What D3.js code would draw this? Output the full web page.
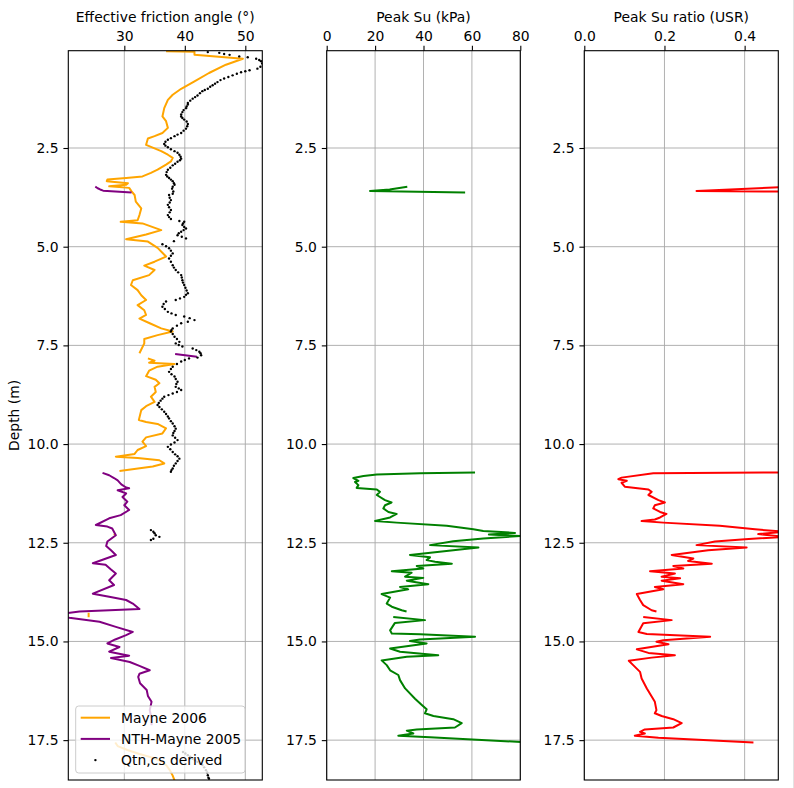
<!DOCTYPE html>
<html><head><meta charset="utf-8">
<script src="https://cdn.jsdelivr.net/npm/d3@7/dist/d3.min.js"></script>
<style>body{margin:0;background:#fff} svg{display:block} text{font-family:"DejaVu Sans",sans-serif;fill:#000}</style>
</head><body><svg id="c" width="794" height="788"></svg>
<script>
// ---- Data (depth in m) ----
const depthTicks = [2.5, 5.0, 7.5, 10.0, 12.5, 15.0, 17.5];
const frictionTicks = [30, 40, 50];
const suTicks = [0, 20, 40, 60, 80];
const usrTicks = [0.0, 0.2, 0.4];

// Mayne 2006 (null = gap)
const mayneDepth = [0.05,0.06,0.14,0.24,0.39,0.60,0.81,1.00,1.15,1.28,1.49,1.70,1.82,1.99,2.12,2.20,2.26,2.42,2.47,2.58,2.67,2.75,2.84,2.92,3.05,3.13,3.22,3.26,3.30,3.34,3.39,3.43,3.47,3.51,3.60,3.69,3.86,4.03,4.20,4.33,4.37,4.41,4.58,4.69,4.81,4.87,5.03,5.25,5.38,5.48,5.59,5.72,5.85,5.97,6.10,6.23,6.35,6.48,6.61,6.73,6.82,6.94,7.07,7.15,7.24,7.34,7.45,7.70,7.76,7.83,7.89,7.94,7.97,8.04,8.14,8.28,8.37,8.46,8.55,8.68,8.80,8.93,9.04,9.14,9.39,9.44,9.49,9.60,9.73,9.83,9.94,10.05,10.15,10.25,10.32,10.35,10.41,10.49,10.57,10.68,11.0,12.27,12.31,13.0,14.27,14.39,16.0,17.56,17.65,17.75,17.85,17.95,18.05,18.15,18.28,18.40,18.52];
const mayneFriction = [36.9,41.6,41.6,49.6,46.8,44.0,41.6,39.4,38.0,37.2,36.6,36.3,36.9,37.2,36.3,35.0,33.9,33.6,34.4,36.1,37.2,38.0,37.7,36.9,35.5,34.4,33.0,30.3,27.2,27.1,30.6,30.3,27.5,30.8,31.2,31.7,31.9,32.8,32.5,32.2,29.4,33.0,36.1,33.6,30.3,33.9,35.5,36.9,35.0,33.3,35.0,34.1,31.4,31.1,32.2,32.8,33.6,32.2,33.3,33.6,32.5,34.2,36.1,38.0,35.5,33.3,33.3,32.5,null,33.9,35.0,34.1,38.3,35.5,34.1,33.6,35.2,35.8,35.0,35.2,34.4,35.0,33.6,32.8,32.4,33.6,35.5,36.9,36.3,33.6,33.0,33.6,32.2,31.7,28.6,32.2,35.8,36.6,34.7,29.2,null,28.3,28.5,null,24.1,24.1,null,28.5,28.9,30.5,32.5,34.8,36.3,37.0,37.6,38.0,38.3];

// NTH-Mayne 2005
const nthDepth = [3.48,3.52,3.55,3.58,3.63,5.0,7.72,7.79,9.0,10.73,10.79,10.86,10.92,11.02,11.10,11.12,11.17,11.25,11.34,11.46,11.55,11.67,11.80,11.88,12.05,12.09,12.14,12.31,12.47,12.58,12.69,12.81,13.02,13.06,13.18,13.28,13.45,13.57,13.79,13.87,13.95,14.04,14.18,14.24,14.32,14.40,14.50,14.63,14.76,14.84,14.95,15.05,15.14,15.26,15.36,15.42,15.52,15.62,15.73,15.82,15.90,16.06,16.23,16.38,16.53,16.74,16.95,17.12];
const nthFriction = [25.2,25.6,26.0,26.5,31.2,null,38.4,42.0,null,26.4,27.5,28.3,28.9,29.5,30.3,30.8,28.9,30.3,29.7,30.5,30.0,30.8,29.4,27.5,25.3,27.2,28.0,28.6,27.2,27.0,27.8,28.6,24.8,26.9,27.8,28.6,27.5,28.3,24.8,27.5,30.3,31.4,32.5,22.6,18.5,20.9,25.9,28.6,31.4,30.3,28.5,27.2,29.2,27.5,30.8,27.8,30.9,32.5,34.2,32.5,32.3,32.6,33.7,33.9,34.5,34.2,34.5,34.5];

// Qtn,cs derived (points)
const qtnDepth = [0.07,0.09,0.12,0.14,0.18,0.20,0.24,0.27,0.30,0.35,0.39,0.44,0.49,0.53,0.555,0.58,0.62,0.66,0.70,0.74,0.78,0.83,0.87,0.91,0.95,1.00,1.03,1.06,1.11,1.17,1.21,1.25,1.30,1.36,1.40,1.45,1.49,1.54,1.59,1.65,1.70,1.74,1.78,1.83,1.89,1.95,2.01,2.06,2.12,2.16,2.20,2.25,2.29,2.34,2.40,2.44,2.48,2.53,2.58,2.62,2.67,2.72,2.77,2.81,2.85,2.90,2.94,3.00,3.05,3.11,3.18,3.22,3.26,3.30,3.34,3.39,3.43,3.48,3.53,3.60,3.66,3.69,3.76,3.82,3.88,3.94,4.00,4.07,4.13,4.20,4.25,4.30,4.35,4.37,4.41,4.45,4.50,4.54,4.58,4.62,4.66,4.71,4.75,4.79,4.86,4.94,4.99,5.04,5.10,5.17,5.23,5.30,5.38,5.47,5.53,5.59,5.65,5.72,5.78,5.85,5.91,5.97,6.04,6.11,6.18,6.22,6.27,6.31,6.35,6.39,6.45,6.52,6.58,6.65,6.69,6.73,6.77,6.81,6.86,6.90,6.94,7.00,7.07,7.11,7.15,7.21,7.28,7.34,7.41,7.45,7.49,7.53,7.58,7.62,7.66,7.70,7.75,7.81,7.83,7.87,7.91,7.97,8.04,8.10,8.17,8.23,8.29,8.35,8.42,8.48,8.55,8.59,8.63,8.68,8.72,8.76,8.80,8.85,8.90,8.96,9.01,9.06,9.12,9.18,9.24,9.30,9.35,9.42,9.48,9.55,9.61,9.67,9.72,9.78,9.84,9.90,9.96,10.01,10.07,10.13,10.20,10.26,10.31,10.37,10.43,10.49,10.55,10.62,10.66,10.70,12.18,12.22,12.26,12.31,12.35,12.40,12.43,17.80,17.84,17.88,17.92,17.97,18.01,18.05,18.09,18.13,18.19,18.26,18.32,18.39,18.45,18.48];
const qtnFriction = [43.8,45.7,46.5,47.4,49.0,50.4,51.8,52.3,52.6,52.8,52.9,52.5,52.0,50.7,50.0,49.3,48.6,47.9,47.2,46.5,45.9,45.4,45.0,44.6,44.2,43.8,43.3,42.9,42.5,42.1,41.7,41.3,40.9,40.5,40.5,40.3,40.2,39.8,39.6,39.4,39.4,39.6,39.9,40.3,40.5,40.4,40.2,39.8,39.4,38.8,38.3,37.7,37.2,36.8,36.6,36.8,37.2,37.7,38.3,38.8,39.1,39.3,39.4,39.2,38.8,38.4,38.0,37.6,37.2,37.0,36.9,37.1,37.4,37.7,38.0,38.2,38.3,38.0,37.9,38.1,38.0,37.4,37.5,37.7,37.5,37.2,37.4,37.7,37.5,37.2,37.4,37.7,39.1,39.9,39.7,39.6,39.9,40.2,39.8,39.4,39.0,38.8,39.5,40.2,38.2,36.3,36.9,37.4,37.7,38.0,37.7,37.4,37.7,38.0,38.2,38.5,38.9,39.4,39.5,39.6,39.7,39.9,40.1,40.3,40.5,40.2,39.9,39.2,38.5,36.9,36.5,36.3,36.7,37.2,37.8,38.5,39.9,40.8,41.6,40.5,39.4,38.7,38.0,37.8,37.7,38.0,38.3,38.7,39.1,38.5,39.0,39.6,41.3,41.9,42.4,42.6,42.7,42.1,40.7,40.0,39.4,38.7,38.0,37.7,37.4,37.8,38.3,38.5,38.8,38.6,38.5,39.0,39.4,38.7,38.0,37.3,36.6,36.3,36.0,35.7,35.5,35.8,36.2,36.6,36.9,37.2,37.4,37.7,38.0,38.3,38.5,38.3,38.1,38.0,38.4,38.8,38.3,37.7,37.2,37.6,38.0,38.4,38.8,39.1,38.8,38.5,38.2,38.0,37.8,37.7,34.4,34.8,35.0,35.2,35.8,34.8,34.4,39.7,40.1,40.5,40.9,41.3,41.7,42.1,42.5,42.9,43.2,43.5,43.7,43.8,43.9,44.0];

// Peak Su (kPa)
const suDepth = [3.48,3.55,3.59,3.63,7.0,10.72,10.74,10.77,10.81,10.86,10.93,10.96,11.04,11.11,11.15,11.21,11.29,11.42,11.48,11.55,11.63,11.72,11.77,11.86,11.93,11.95,11.99,12.07,12.16,12.20,12.25,12.29,12.33,12.39,12.46,12.56,12.62,12.69,12.81,12.87,12.94,12.98,13.03,13.09,13.15,13.22,13.26,13.36,13.39,13.46,13.55,13.62,13.68,13.80,13.89,14.04,14.12,14.21,14.24,14.30,14.38,14.46,14.53,14.72,14.80,14.82,14.88,14.95,14.99,15.05,15.18,15.26,15.35,15.39,15.48,15.60,15.73,15.85,15.98,16.19,16.45,16.61,16.72,16.82,16.89,16.97,17.07,17.18,17.23,17.26,17.33,17.39,17.43,17.55];
const suValue = [33.3,26.0,17.9,57.2,null,61.3,38.6,20.7,15.2,11.0,13.1,11.7,13.1,12.4,20.7,22.0,20.7,24.1,26.8,24.1,23.4,25.5,28.9,26.2,21.3,20.0,28.9,49.6,60.6,64.7,77.8,67.0,79.9,64.7,52.3,42.7,62.7,52.3,34.4,42.7,41.3,44.8,51.7,37.2,39.9,26.9,35.1,32.4,39.9,33.1,42.0,30.3,33.7,22.7,26.2,24.8,26.9,31.0,33.0,null,27.5,40.6,28.2,26.2,26.9,38.6,61.3,38.6,34.4,41.3,26.2,30.3,46.1,33.1,22.7,24.8,26.2,29.6,30.3,32.4,36.5,39.3,41.3,40.6,44.1,52.3,55.8,53.0,37.2,33.1,35.8,29.6,42.7,81.0];

// Peak Su ratio (USR)
const usrDepth = [3.48,3.59,3.63,7.0,10.72,10.74,10.85,10.89,10.93,10.98,11.08,11.15,11.21,11.29,11.42,11.48,11.55,11.63,11.72,11.77,11.86,11.91,11.95,11.99,12.07,12.16,12.22,12.28,12.35,12.41,12.47,12.56,12.62,12.69,12.81,12.90,12.96,13.03,13.09,13.15,13.22,13.28,13.36,13.40,13.46,13.55,13.62,13.68,13.80,13.95,14.08,14.21,14.24,14.30,14.38,14.46,14.54,14.76,14.81,14.88,14.97,15.01,15.07,15.20,15.29,15.35,15.41,15.49,15.60,15.77,15.94,16.19,16.53,16.74,16.82,16.89,16.97,17.07,17.18,17.23,17.29,17.33,17.39,17.44,17.56];
const usrValue = [0.52,0.280,0.89,null,0.49,0.172,0.093,0.085,0.106,0.093,0.101,0.160,0.168,0.160,0.185,0.201,0.176,0.172,0.189,0.205,0.189,0.176,0.143,0.197,0.338,0.426,0.50,0.434,0.50,0.401,0.326,0.280,0.405,0.309,0.218,0.272,0.259,0.318,0.222,0.247,0.164,0.226,0.193,0.239,0.193,0.247,0.176,0.197,0.131,0.139,0.147,0.168,0.180,null,0.147,0.218,0.147,0.135,0.156,0.314,0.197,0.180,0.210,0.131,0.160,0.226,0.168,0.111,0.122,0.139,0.143,0.156,0.176,0.180,0.176,0.193,0.222,0.243,0.222,0.151,0.139,0.151,0.126,0.185,0.422];

// ---- Layout ----
const svg = d3.select('#c');
const yTop = 50.7, yBot = 780;
const y = d3.scaleLinear().domain([0.035, 18.51]).range([yTop, yBot]);
const FS = 13.9, TL = 4.9;
const gridCol = '#a8a8a8';

svg.append('line').attr('x1',793.5).attr('x2',793.5).attr('y1',0).attr('y2',788).attr('stroke','#e3e3e3').attr('stroke-width',1);

const panels = [
  {x0:68.3, x1:262.3, dom:[20.74,52.81], ticks:frictionTicks, fmt:d3.format('d'), title:'Effective friction angle (°)'},
  {x0:326.7, x1:520.3, dom:[0,80], ticks:suTicks, fmt:d3.format('d'), title:'Peak Su (kPa)'},
  {x0:584.3, x1:778.3, dom:[0,0.484], ticks:usrTicks, fmt:d3.format('.1f'), title:'Peak Su ratio (USR)'}
];

panels.forEach((p,i)=>{
  p.x = d3.scaleLinear().domain(p.dom).range([p.x0,p.x1]);
  const g = svg.append('g');
  const cid = 'clip'+i;
  svg.append('clipPath').attr('id',cid).append('rect').attr('x',p.x0).attr('y',yTop).attr('width',p.x1-p.x0).attr('height',yBot-yTop);
  g.selectAll('.gx').data(p.ticks).enter().append('line')
    .attr('x1',d=>p.x(d)).attr('x2',d=>p.x(d)).attr('y1',yTop).attr('y2',yBot)
    .attr('stroke',gridCol).attr('stroke-width',0.9);
  g.selectAll('.gy').data(depthTicks).enter().append('line')
    .attr('x1',p.x0).attr('x2',p.x1).attr('y1',d=>y(d)).attr('y2',d=>y(d))
    .attr('stroke',gridCol).attr('stroke-width',0.9);
  p.g = g.append('g').attr('clip-path','url(#'+cid+')');
  p.frame = svg.append('g');
});

function drawLine(p, depths, vals, color){
  const data = depths.map((d,i)=>({d, v: vals[i]}));
  const line = d3.line().defined(o=>o.v!==null).x(o=>p.x(o.v)).y(o=>y(o.d));
  p.g.append('path').datum(data).attr('d',line).attr('fill','none')
    .attr('stroke',color).attr('stroke-width',2).attr('stroke-linejoin','round');
}

const P1 = panels[0], P2 = panels[1], P3 = panels[2];
drawLine(P1, mayneDepth, mayneFriction, '#ffa500');
drawLine(P1, nthDepth, nthFriction, '#800080');
P1.g.selectAll('circle.q').data(qtnDepth.map((d,i)=>({d,v:qtnFriction[i]}))).enter().append('circle')
  .attr('cx',o=>P1.x(o.v)).attr('cy',o=>y(o.d)).attr('r',1.2).attr('fill','#000');
drawLine(P2, suDepth, suValue, '#008000');
drawLine(P3, usrDepth, usrValue, '#ff0000');

panels.forEach((p,i)=>{
  const f = p.frame;
  f.append('rect').attr('x',p.x0).attr('y',yTop).attr('width',p.x1-p.x0).attr('height',yBot-yTop)
    .attr('fill','none').attr('stroke','#000').attr('stroke-width',1.1);
  const xAxis = d3.axisTop(p.x).tickValues(p.ticks).tickFormat(p.fmt).tickSize(TL).tickPadding(4.9);
  const ax = f.append('g').attr('transform',`translate(0,${yTop})`).call(xAxis);
  const yAxis = d3.axisLeft(y).tickValues(depthTicks).tickFormat(d3.format('.1f')).tickSize(TL).tickPadding(4.9);
  const ay = f.append('g').attr('transform',`translate(${p.x0},0)`).call(yAxis);
  [ax,ay].forEach(a=>{
    a.select('.domain').remove();
    a.selectAll('.tick line').attr('stroke','#000').attr('stroke-width',1.1);
    a.selectAll('.tick text').attr('font-size',FS).attr('font-family','DejaVu Sans').attr('fill','#000');
  });
  f.append('text').attr('x',(p.x0+p.x1)/2).attr('y',21.5).attr('text-anchor','middle')
    .attr('font-size',FS).text(p.title);
});

svg.append('text').attr('transform',`translate(19,${(yTop+yBot)/2}) rotate(-90)`)
  .attr('text-anchor','middle').attr('font-size',FS).text('Depth (m)');

const lg = svg.append('g');
lg.append('rect').attr('x',75.7).attr('y',706).attr('width',169.3).attr('height',67).attr('rx',3)
  .attr('fill','#fff').attr('fill-opacity',0.8).attr('stroke','#cccccc').attr('stroke-width',1);
const legendItems = [
  {label:'Mayne 2006', color:'#ffa500', type:'line'},
  {label:'NTH-Mayne 2005', color:'#800080', type:'line'},
  {label:'Qtn,cs derived', color:'#000', type:'dot'}
];
legendItems.forEach((it,i)=>{
  const cy = 717.7 + i*21.2;
  if(it.type==='line') lg.append('line').attr('x1',80.7).attr('x2',110).attr('y1',cy).attr('y2',cy).attr('stroke',it.color).attr('stroke-width',2);
  else lg.append('circle').attr('cx',95.4).attr('cy',cy).attr('r',1.2).attr('fill',it.color);
  lg.append('text').attr('x',121).attr('y',cy).attr('dy','0.35em').attr('font-size',FS).text(it.label);
});
</script></body></html>
